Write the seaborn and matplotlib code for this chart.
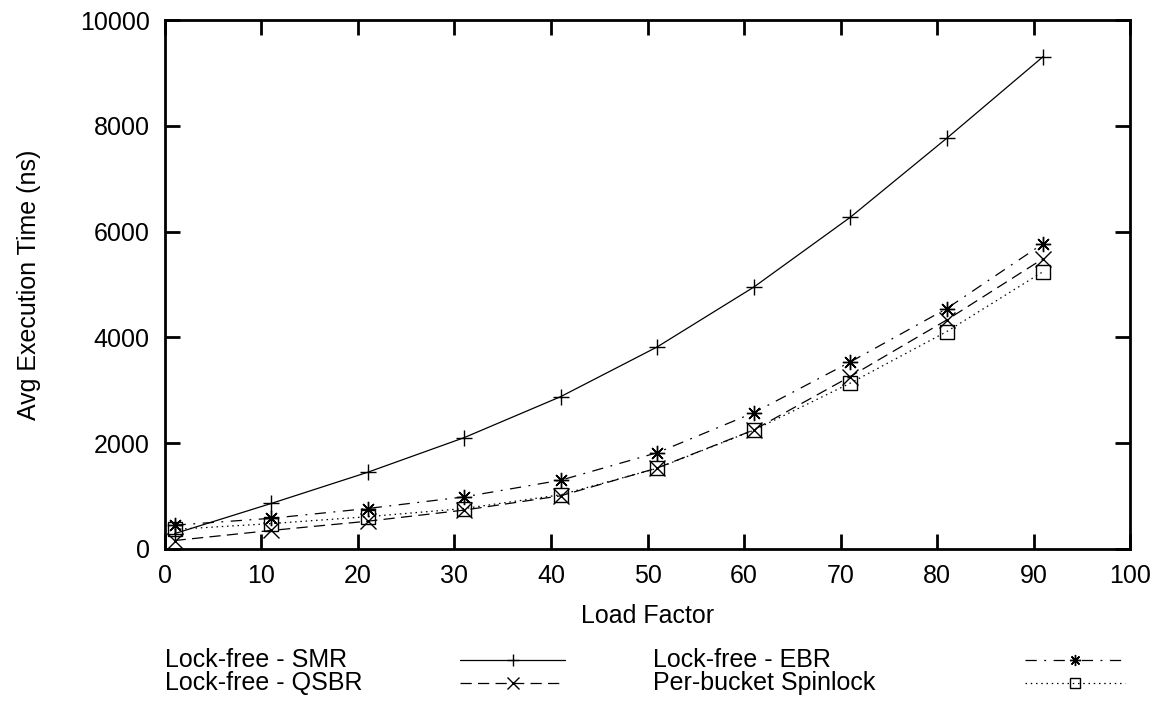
import matplotlib
matplotlib.use("Agg")
import matplotlib.pyplot as plt
from matplotlib.lines import Line2D
import seaborn as sns

sns.set_style("ticks")
plt.rcParams["font.family"] = ["Liberation Sans", "DejaVu Sans"]
plt.rcParams["text.color"] = "black"
plt.rcParams["axes.labelcolor"] = "black"

# ---------------------------------------------------
# data
# ---------------------------------------------------
load_factor = [1, 11, 21, 31, 41, 51, 61, 71, 81, 91]
smr = [290, 860, 1450, 2105, 2880, 3820, 4950, 6270, 7765, 9310]
ebr = [450, 580, 765, 985, 1300, 1820, 2575, 3535, 4545, 5775]
qsbr = [160, 350, 525, 735, 1005, 1530, 2250, 3260, 4330, 5490]
spinlock = [370, 480, 610, 765, 1025, 1525, 2245, 3135, 4110, 5245]

series = [
    ("Lock-free - SMR", smr, "+", "-"),
    ("Lock-free - EBR", ebr, (8, 2, 0), (0, (9, 6, 1.5, 6))),
    ("Lock-free - QSBR", qsbr, "x", (0, (9, 5))),
    ("Per-bucket Spinlock", spinlock, "s", (0, (1.2, 3))),
]

FS = 18
fig = plt.figure(figsize=(11.6, 7.09), dpi=100)
ax = fig.add_axes([0.1422, 0.2257, 0.832, 0.746])

for name, vals, mk, ls in series:
    sns.lineplot(x=load_factor, y=vals, ax=ax, color="black", linewidth=0.9,
                 linestyle=ls, marker=mk, markersize=11 if mk != "s" else 10,
                 markeredgecolor="black", markerfacecolor="none",
                 markeredgewidth=1.0)

ax.set_xlim(0, 100)
ax.set_ylim(0, 10000)
ax.set_xticks(range(0, 101, 10))
ax.set_yticks(range(0, 10001, 2000))
ax.set_xlabel("Load Factor", fontsize=FS, labelpad=11)
ax.set_ylabel("Avg Execution Time (ns)", fontsize=FS, labelpad=28)
ax.tick_params(direction="in", length=11, width=2, labelsize=FS, pad=11,
               top=True, right=True, colors="black")
for sp in ax.spines.values():
    sp.set_linewidth(2)
    sp.set_color("black")

# ---------------------------------------------------
# gnuplot-style key below the plot
# ---------------------------------------------------
W, H = 1160, 709
key = [
    ("Lock-free - SMR", 165, 460, 565, 660, series[0]),
    ("Lock-free - EBR", 653, 1025, 1125, 660, series[1]),
    ("Lock-free - QSBR", 165, 460, 565, 683, series[2]),
    ("Per-bucket Spinlock", 653, 1025, 1125, 683, series[3]),
]
for label, tx, x0, x1, y, s in key:
    fig.text(tx / W, 1 - y / H, label, fontsize=FS, va="center", ha="left")
    xm = (x0 + x1) / 2
    fig.add_artist(Line2D([x0 / W, xm / W, x1 / W], [1 - y / H] * 3,
                          transform=fig.transFigure, color="black",
                          linewidth=0.9, linestyle=s[3], marker=s[2],
                          markevery=[1], markersize=8 if s[2] != "s" else 7,
                          markeredgecolor="black", markerfacecolor="none",
                          markeredgewidth=1.0))

fig.savefig("out.png", dpi=100)
